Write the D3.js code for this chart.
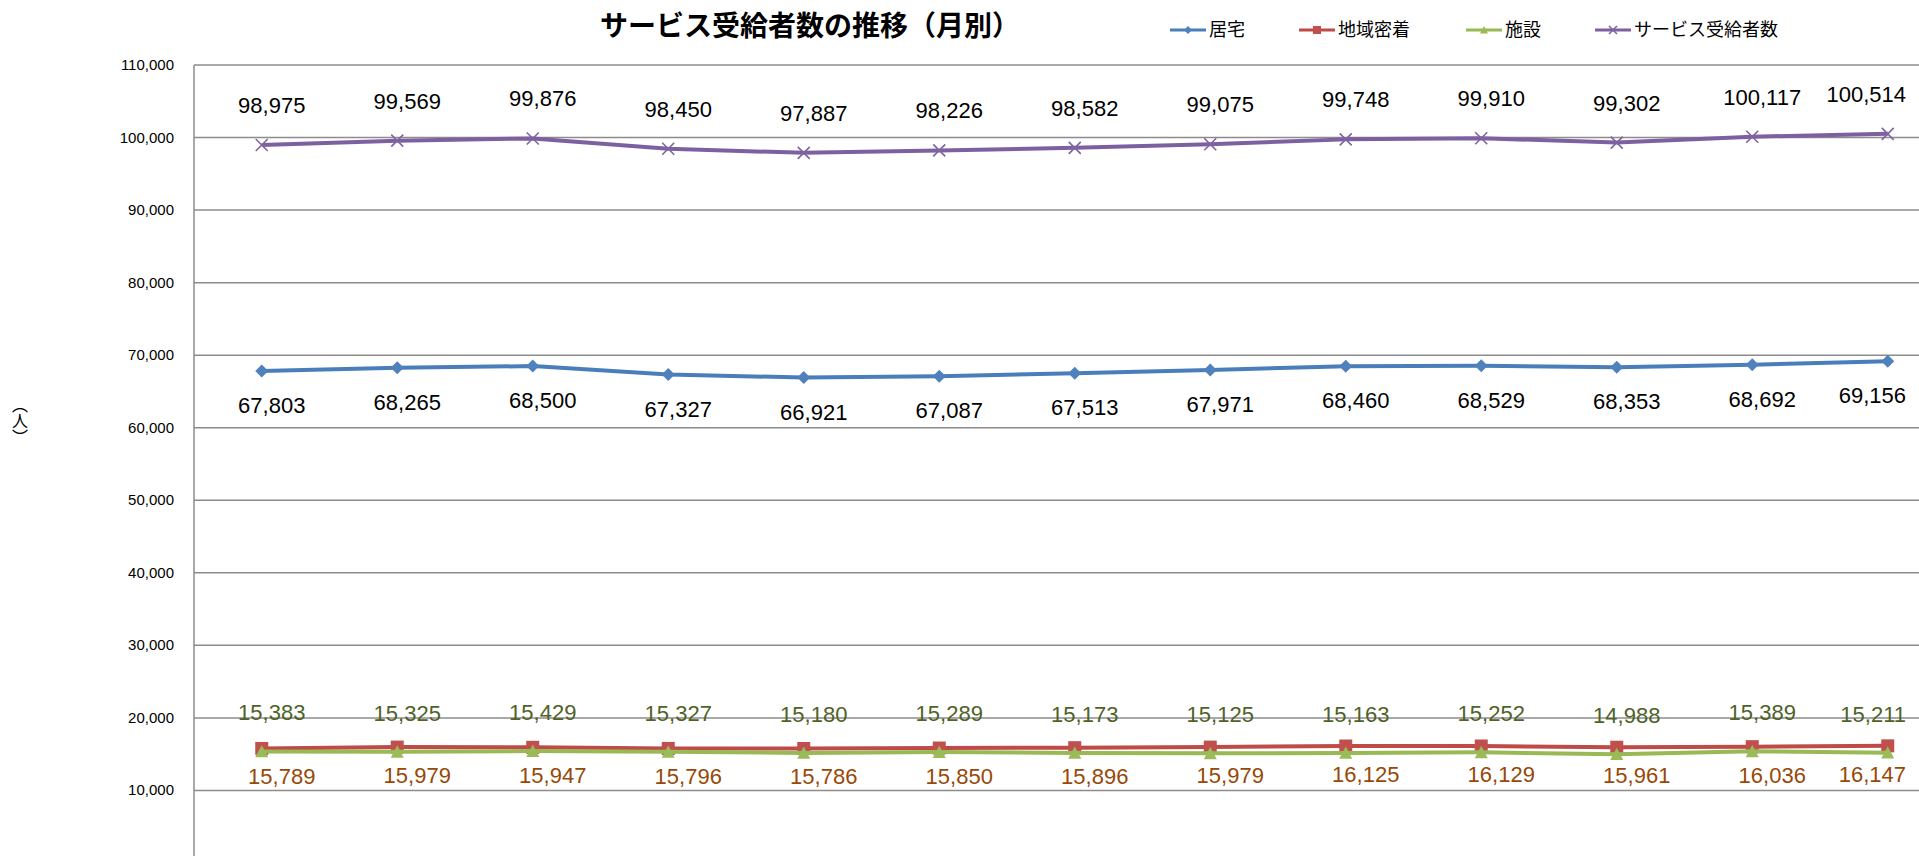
<!DOCTYPE html>
<html lang="ja">
<head>
<meta charset="utf-8">
<script src="https://cdn.jsdelivr.net/npm/d3@7"></script>
<style>
  html, body { margin: 0; padding: 0; background: #fff; overflow: hidden; }
  svg { display: block; }
</style>
</head>
<body>
<div id="chart"></div>
<script>
// Data
const months = ["H28.4", "H28.5", "H28.6", "H28.7", "H28.8", "H28.9", "H28.10",
    "H28.11", "H28.12", "H29.1", "H29.2", "H29.3", "H29.4"];
const seriesNames = ["居宅", "地域密着", "施設", "サービス受給者数"];
const kyotaku = [67803, 68265, 68500, 67327, 66921, 67087, 67513, 67971, 68460, 68529, 68353, 68692, 69156];
const chiiki = [15789, 15979, 15947, 15796, 15786, 15850, 15896, 15979, 16125, 16129, 15961, 16036, 16147];
const shisetsu = [15383, 15325, 15429, 15327, 15180, 15289, 15173, 15125, 15163, 15252, 14988, 15389, 15211];
const total = [98975, 99569, 99876, 98450, 97887, 98226, 98582, 99075, 99748, 99910, 99302, 100117, 100514];
const yTicks = [10000, 20000, 30000, 40000, 50000, 60000, 70000, 80000, 90000, 100000, 110000];

// Configuration
const width = 1919;
const height = 856;
const plotLeft = 194;
const plotTop = 65;
const step = 135.5;  // category width, plot runs past the right edge
const plotBottom = 863; // y of 0, just below the visible area
const labelRightLimit = 1906; // data labels get pushed inside this edge
const jpFont = "'Noto Sans CJK JP', 'Noto Sans', sans-serif";
const numFont = "'Liberation Sans', Arial, sans-serif";

// Series styling in Excel 2007 defaults
const series = [
    { name: seriesNames[0], values: kyotaku, line: "#4a7ebb", marker: "diamond", labelColor: "#000", dy: 42, dx: 10 },
    { name: seriesNames[1], values: chiiki, line: "#be4b48", marker: "square", labelColor: "#984807", dy: 36, dx: 20 },
    { name: seriesNames[2], values: shisetsu, line: "#98b954", marker: "triangle", labelColor: "#4f6228", dy: -31, dx: 10 },
    { name: seriesNames[3], values: total, line: "#7d60a0", marker: "cross", labelColor: "#000", dy: -32, dx: 10 }
];

const svg = d3.select("#chart")
    .append("svg")
    .attr("width", width)
    .attr("height", height)
    .attr("viewBox", [0, 0, width, height]);

// Scales
const x = d3.scalePoint()
    .domain(months)
    .range([plotLeft, plotLeft + step * months.length])
    .padding(0.5);

const y = d3.scaleLinear()
    .domain([0, 110000])
    .range([plotBottom, plotTop]);

// Gridlines
svg.append("g")
    .selectAll("line")
    .data(yTicks)
    .join("line")
    .attr("x1", plotLeft)
    .attr("x2", width)
    .attr("y1", d => y(d))
    .attr("y2", d => y(d))
    .attr("stroke", "#8c8c8c")
    .attr("stroke-width", 1.5);

// Y axis line + tick labels
svg.append("line")
    .attr("x1", plotLeft).attr("x2", plotLeft)
    .attr("y1", plotTop).attr("y2", height)
    .attr("stroke", "#8c8c8c")
    .attr("stroke-width", 1.5);

svg.append("g")
    .selectAll("text")
    .data(yTicks)
    .join("text")
    .attr("x", plotLeft - 20)
    .attr("y", d => y(d) + 5)
    .attr("text-anchor", "end")
    .style("font", `15px ${numFont}`)
    .style("fill", "#000")
    .text(d => d3.format(",")(d));

// Axis title (vertical)
svg.append("text")
    .attr("x", 20)
    .attr("y", 421)
    .attr("text-anchor", "middle")
    .style("writing-mode", "vertical-rl")
    .style("font", `16px ${jpFont}`)
    .style("fill", "#000")
    .text("（人）");

// Title
svg.append("text")
    .attr("x", 810)
    .attr("y", 36)
    .attr("text-anchor", "middle")
    .style("font", `bold 28px ${jpFont}`)
    .style("fill", "#000")
    .text("サービス受給者数の推移（月別）");

// Marker drawing helper
function drawMarker(sel, type, size) {
    const h = size / 2;
    if (type === "diamond") {
        sel.append("path")
            .attr("d", `M0,${-h}L${h},0L0,${h}L${-h},0Z`)
            .attr("fill", "#4f81bd");
    } else if (type === "square") {
        sel.append("rect")
            .attr("x", -h).attr("y", -h)
            .attr("width", size).attr("height", size)
            .attr("fill", "#c0504d");
    } else if (type === "triangle") {
        sel.append("path")
            .attr("d", `M0,${-h}L${h},${h * 0.9}L${-h},${h * 0.9}Z`)
            .attr("fill", "#9bbb59");
    } else {
        sel.append("path")
            .attr("d", `M${-h},${-h}L${h},${h}M${-h},${h}L${h},${-h}`)
            .attr("stroke", "#8064a2")
            .attr("stroke-width", 1.6)
            .attr("fill", "none");
    }
}

const line = d3.line()
    .x((d, i) => x(months[i]))
    .y(d => y(d));

// Lines + markers, in series order
series.forEach(s => {
    const g = svg.append("g");
    g.append("path")
        .datum(s.values)
        .attr("d", line)
        .attr("fill", "none")
        .attr("stroke", s.line)
        .attr("stroke-width", 4)
        .attr("stroke-linejoin", "round");

    g.selectAll("g.marker")
        .data(s.values)
        .join("g")
        .attr("class", "marker")
        .attr("transform", (d, i) => `translate(${x(months[i])},${y(d)})`)
        .each(function () {
            drawMarker(d3.select(this), s.marker, s.marker === "cross" ? 12 : 13);
        });
});

// Data labels (kept inside the right edge, like Excel does)
series.forEach(s => {
    svg.append("g")
        .selectAll("text")
        .data(s.values)
        .join("text")
        .attr("x", (d, i) => x(months[i]) + s.dx)
        .attr("y", d => y(d) + s.dy)
        .attr("text-anchor", "middle")
        .style("font", `22px ${numFont}`)
        .style("fill", s.labelColor)
        .text(d => d3.format(",")(d))
        .each(function () {
            const w = this.getComputedTextLength();
            const cx = +this.getAttribute("x");
            if (cx + w / 2 > labelRightLimit) {
                this.setAttribute("x", labelRightLimit - w / 2);
            }
        });
});

// Legend
const legendX = [1170, 1299, 1466, 1595];
const legend = svg.append("g")
    .selectAll("g")
    .data(series)
    .join("g")
    .attr("transform", (d, i) => `translate(${legendX[i]},30)`);

legend.append("line")
    .attr("x1", 0).attr("x2", 36)
    .attr("stroke", d => d.line)
    .attr("stroke-width", 3);

legend.append("g")
    .attr("transform", "translate(18,0)")
    .each(function (d) {
        drawMarker(d3.select(this), d.marker, 8);
    });

legend.append("text")
    .attr("x", 39)
    .attr("y", 6)
    .style("font", `18px ${jpFont}`)
    .style("fill", "#000")
    .text(d => d.name);
</script>
</body>
</html>
